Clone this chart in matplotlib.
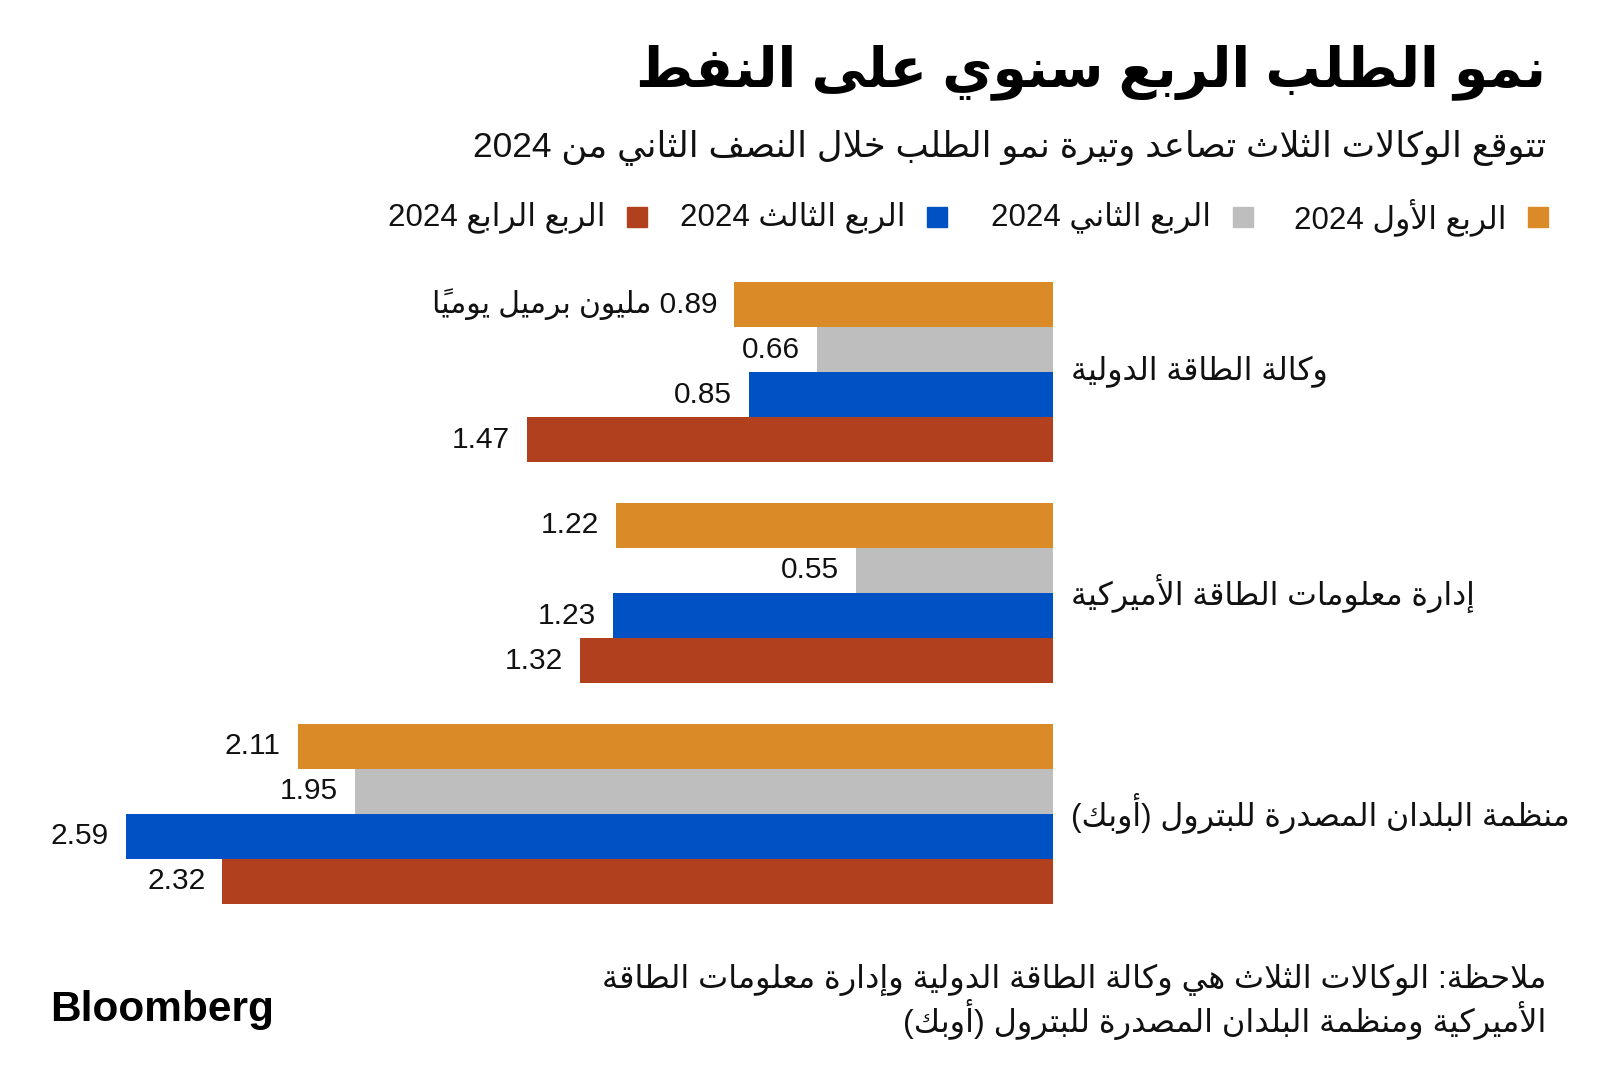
import re
import matplotlib
matplotlib.use("Agg")
from matplotlib import pyplot as plt

# --- data ---
title = "نمو الطلب الربع سنوي على النفط"
subtitle = "تتوقع الوكالات الثلاث تصاعد وتيرة نمو الطلب خلال النصف الثاني من 2024"
series = ["الربع الأول 2024", "الربع الثاني 2024", "الربع الثالث 2024", "الربع الرابع 2024"]
colors = ["#DA8A26", "#BEBEBE", "#0052C4", "#B1401E"]
agencies = ["وكالة الطاقة الدولية", "إدارة معلومات الطاقة الأميركية",
            "منظمة البلدان المصدرة للبترول (أوبك)"]
q1 = [0.89, 1.22, 2.11]
q2 = [0.66, 0.55, 1.95]
q3 = [0.85, 1.23, 2.59]
q4 = [1.47, 1.32, 2.32]
unit = "مليون برميل يومياً"
note = ["ملاحظة: الوكالات الثلاث هي وكالة الطاقة الدولية وإدارة معلومات الطاقة",
        "الأميركية ومنظمة البلدان المصدرة للبترول (أوبك)"]

# --- tiny arabic shaper (no arabic_reshaper offline) ---
FORMS = {}
_counts = ([(0x621, 1), (0x622, 2), (0x623, 2), (0x624, 2), (0x625, 2), (0x626, 4),
            (0x627, 2), (0x628, 4), (0x629, 2)]
           + [(c, 4) for c in range(0x62A, 0x62F)]
           + [(0x62F, 2), (0x630, 2), (0x631, 2), (0x632, 2)]
           + [(c, 4) for c in range(0x633, 0x63B)]
           + [(c, 4) for c in range(0x641, 0x648)]
           + [(0x648, 2), (0x649, 2), (0x64A, 4)])
_b = 0xFE80
for cp, n in _counts:
    FORMS[chr(cp)] = [chr(_b + i) for i in range(n)]
    _b += n
LAMALEF = {"آ": 0xFEF5, "أ": 0xFEF7, "إ": 0xFEF9, "ا": 0xFEFB}
MARKS = set(chr(c) for c in range(0x64B, 0x653))
MIRROR = {"(": ")", ")": "("}


def shape_run(s):
    units = []  # [base, marks, kind]
    i = 0
    while i < len(s):
        ch = s[i]
        if ch in MARKS and units:
            units[-1][1] += ch
            i += 1
            continue
        if ch == "ل" and i + 1 < len(s) and s[i + 1] in LAMALEF:
            units.append([s[i + 1], "", "LA"])
            i += 2
            continue
        units.append([ch, "", "L" if ch in FORMS else "X"])
        i += 1

    def joins(u):
        return u[2] == "LA" or (u[2] == "L" and len(FORMS[u[0]]) > 1)

    def dual(u):
        return u[2] == "L" and len(FORMS[u[0]]) == 4

    out = []
    for k, u in enumerate(units):
        p = k > 0 and dual(units[k - 1]) and joins(u)
        nx = dual(u) and k + 1 < len(units) and joins(units[k + 1])
        if u[2] == "LA":
            g = chr(LAMALEF[u[0]] + (1 if p else 0))
        elif u[2] == "L":
            f = FORMS[u[0]]
            if len(f) == 4:
                g = f[3] if (p and nx) else f[1] if p else f[2] if nx else f[0]
            elif len(f) == 2:
                g = f[1] if p else f[0]
            else:
                g = f[0]
        else:
            g = MIRROR.get(u[0], u[0])
        out.append(g + u[1])
    return "".join(reversed(out))


def ar(text):
    parts = re.split(r"([0-9][0-9.,]*)", text)
    segs = [p if re.match(r"[0-9]", p) else shape_run(p) for p in parts if p]
    return "".join(reversed(segs))


FAM = ["Liberation Sans", "DejaVu Sans"]
plt.rcParams["font.family"] = FAM

fig = plt.figure(figsize=(16, 10.89), dpi=100)
W, H = 1600, 1089

# axes: bars grow leftwards from x=1053px, 358 px per unit
x0, top, bot = 1053, 282, 904
ax = fig.add_axes([0, 1 - bot / H, x0 / W, (bot - top) / H])
ax.set_xlim(x0 / 358, 0)
pitch = 4.91
ax.set_ylim(2 * pitch + 2, -2)
ax.axis("off")

vals = [q1, q2, q3, q4]
for j, (v, c) in enumerate(zip(vals, colors)):
    ys = [g * pitch + (j - 1.5) for g in range(len(agencies))]
    ax.barh(ys, v, height=1.0, color=c, edgecolor="none")
    for g, (val, yy) in enumerate(zip(v, ys)):
        lab = f"{val:.2f}"
        if g == 0 and j == 0:
            lab = ar(lab + " " + unit)
        ax.annotate(lab, (val, yy), xytext=(-17, 0), textcoords="offset pixels",
                    ha="right", va="center", fontsize=21.5, color="#111111")

for g, name in enumerate(agencies):
    ax.annotate(ar(name), (0, g * pitch), xytext=(18, 0), textcoords="offset pixels",
                ha="left", va="center", fontsize=22.8, color="#111111")

# title block
fig.text(1546 / W, 1 - 72 / H, ar(title), ha="right", va="center",
         fontsize=39.5, fontweight="bold", color="black")
fig.text(1546 / W, 1 - 148 / H, ar(subtitle), ha="right", va="center",
         fontsize=25.5, color="#111111")

# legend row
sq = [1528, 1233, 927, 627]
for x, c, s in zip(sq, colors, series):
    fig.patches.append(plt.Rectangle((x / W, 1 - 227 / H), 20 / W, 20 / H,
                                     transform=fig.transFigure, color=c))
    fig.text((x - 22) / W, 1 - 217 / H, ar(s), ha="right", va="center",
             fontsize=22.5, color="#111111")

# note + logo
for k, line in enumerate(note):
    fig.text(1546 / W, 1 - (980 + 39 * k) / H, ar(line), ha="right", va="center",
             fontsize=23, color="#111111")
fig.text(50 / W, 1 - 1010 / H, "Bloomberg", ha="left", va="center",
         fontsize=30.5, fontweight="bold", family="Liberation Sans")

fig.savefig("out.png", dpi=100)
